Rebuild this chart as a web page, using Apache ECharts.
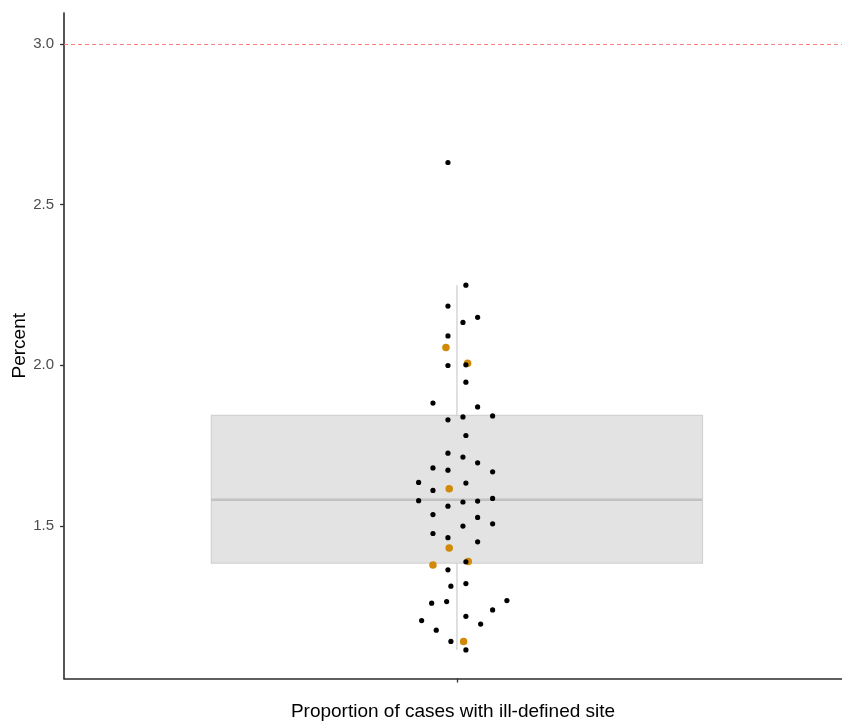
<!DOCTYPE html>
<html>
<head>
<meta charset="utf-8">
<title>Proportion of cases with ill-defined site</title>
<script src="https://cdn.jsdelivr.net/npm/echarts@6/dist/echarts.min.js"></script>
<style>
  html, body { margin: 0; padding: 0; background: #ffffff; }
  #chart { width: 842px; height: 723px; }
</style>
</head>
<body>
<div id="chart"></div>
<script>
// Axis text
const xTitle = 'Proportion of cases with ill-defined site';
const yTitle = 'Percent';
const yTickValues = [1.5, 2.0, 2.5, 3.0];

// Reference threshold (dashed red line)
const threshold = 3.0;

// Boxplot summary: lower whisker, Q1, median, Q3, upper whisker
const boxStats = [1.1135, 1.384, 1.581, 1.844, 2.249];

// Sites shown in black: value and horizontal swarm offset from the centre
const siteValues = [
  2.631, 2.249, 2.184, 2.149, 2.133, 2.091, 1.999, 2.001, 1.947, 1.882,
  1.870, 1.842, 1.839, 1.830, 1.781, 1.726, 1.714, 1.696, 1.680, 1.673,
  1.668, 1.635, 1.633, 1.610, 1.578, 1.574, 1.577, 1.585, 1.561, 1.535,
  1.526, 1.499, 1.506, 1.476, 1.463, 1.450, 1.388, 1.363, 1.312, 1.320,
  1.259, 1.264, 1.267, 1.238, 1.205, 1.218, 1.194, 1.175, 1.140, 1.1135
];
const siteOffsets = [
  -0.0137, 0.0137, -0.0137, 0.0316, 0.0092, -0.0137, -0.0137, 0.0137, 0.0137, -0.0366,
   0.0316, 0.0545, 0.0092, -0.0137, 0.0137, -0.0137, 0.0092, 0.0316, -0.0366, -0.0137,
   0.0545, -0.0585, 0.0137, -0.0366, -0.0585, 0.0092, 0.0316, 0.0545, -0.0137, -0.0366,
   0.0316, 0.0092, 0.0545, -0.0366, -0.0137, 0.0316, 0.0137, -0.0137, -0.0092, 0.0137,
  -0.0386, -0.0157, 0.0763, 0.0545, -0.0539, 0.0137, 0.0362, -0.0316, -0.0092, 0.0137
];

// Highlighted sites (orange)
const highlightValues = [2.055, 2.006, 1.615, 1.431, 1.378, 1.389, 1.140];
const highlightOffsets = [-0.0168, 0.0163, -0.0118, -0.0118, -0.0366, 0.0173, 0.0102];

const CATEGORY_X = 1;
const BOX_HALF = 0.375;
const FONT = "'Liberation Sans', Arial, Helvetica, sans-serif";
const THRESHOLD_COLOR = '#ff8080';

const sitePoints = siteValues.map((v, i) => [CATEGORY_X + siteOffsets[i], v]);
const highlightPoints = highlightValues.map((v, i) => [CATEGORY_X + highlightOffsets[i], v]);

const chart = echarts.init(document.getElementById('chart'), null, { renderer: 'canvas' });

function renderBox(params, api) {
  const x = api.value(0);
  const lo = api.value(1), q1 = api.value(2), med = api.value(3), q3 = api.value(4), hi = api.value(5);
  const top = api.coord([x, hi]);
  const bottom = api.coord([x, lo]);
  const q3L = api.coord([x - BOX_HALF, q3]);
  const q1R = api.coord([x + BOX_HALF, q1]);
  const medL = api.coord([x - BOX_HALF, med]);
  const medR = api.coord([x + BOX_HALF, med]);
  const upper = api.coord([x, q3]);
  const lower = api.coord([x, q1]);
  const lineStyle = { stroke: '#d9d9d9', lineWidth: 1.6, fill: null };
  return {
    type: 'group',
    children: [
      { type: 'line', shape: { x1: top[0], y1: top[1], x2: upper[0], y2: upper[1] }, style: lineStyle },
      { type: 'line', shape: { x1: lower[0], y1: lower[1], x2: bottom[0], y2: bottom[1] }, style: lineStyle },
      {
        type: 'rect',
        shape: { x: q3L[0], y: q3L[1], width: q1R[0] - q3L[0], height: q1R[1] - q3L[1] },
        style: { fill: '#e3e3e3', stroke: '#d2d2d2', lineWidth: 1.2 }
      },
      { type: 'line', shape: { x1: medL[0], y1: medL[1], x2: medR[0], y2: medR[1] },
        style: { stroke: '#c2c2c2', lineWidth: 2.6 } }
    ]
  };
}

const option = {
  backgroundColor: '#ffffff',
  animation: false,
  grid: { left: 64, right: 0, top: 13, height: 665.5, outerBoundsMode: 'none', containLabel: false },
  xAxis: {
    type: 'value',
    min: 0.4,
    max: 1.588,
    name: xTitle,
    nameLocation: 'middle',
    nameGap: 24,
    nameMoveOverlap: false,
    nameTextStyle: { color: '#000000', fontSize: 19, fontFamily: FONT },
    axisLine: { show: true, onZero: false, lineStyle: { color: '#2b2b2b', width: 1.6 } },
    axisTick: { show: true, length: 4, lineStyle: { color: '#333333', width: 1.3 }, customValues: [CATEGORY_X] },
    axisLabel: { show: false },
    splitLine: { show: false }
  },
  yAxis: {
    type: 'value',
    min: 1.0245,
    max: 3.0965,
    name: yTitle,
    nameLocation: 'middle',
    nameGap: 35,
    nameRotate: 90,
    nameMoveOverlap: false,
    nameTextStyle: { color: '#000000', fontSize: 19, fontFamily: FONT },
    axisLine: { show: true, onZero: false, lineStyle: { color: '#2b2b2b', width: 1.6 } },
    axisTick: { show: true, length: 4, lineStyle: { color: '#333333', width: 1.3 }, customValues: yTickValues },
    axisLabel: {
      color: '#4d4d4d', fontSize: 15, fontFamily: FONT, margin: 10,
      customValues: yTickValues,
      formatter: v => Number(v).toFixed(1)
    },
    splitLine: { show: false }
  },
  series: [
    {
      type: 'custom',
      name: 'box',
      renderItem: renderBox,
      data: [[CATEGORY_X, ...boxStats]],
      encode: { x: 0, y: [1, 2, 3, 4, 5] },
      silent: true,
      z: 1
    },
    {
      type: 'line',
      name: 'threshold',
      data: [],
      silent: true,
      z: 1,
      itemStyle: { color: THRESHOLD_COLOR },
      lineStyle: { color: THRESHOLD_COLOR },
      markLine: {
        silent: true,
        symbol: ['none', 'none'],
        label: { show: false },
        itemStyle: { color: THRESHOLD_COLOR },
        lineStyle: { color: THRESHOLD_COLOR, type: [4, 3], width: 1.1 },
        data: [{ yAxis: threshold }]
      }
    },
    {
      type: 'scatter',
      name: 'highlight',
      data: highlightPoints,
      symbol: 'circle',
      symbolSize: 7.5,
      itemStyle: { color: '#d08a08', opacity: 1 },
      silent: true,
      z: 2
    },
    {
      type: 'scatter',
      name: 'sites',
      data: sitePoints,
      symbol: 'circle',
      symbolSize: 5.2,
      itemStyle: { color: '#000000', opacity: 1 },
      silent: true,
      z: 3
    }
  ]
};

chart.setOption(option);
</script>
</body>
</html>
